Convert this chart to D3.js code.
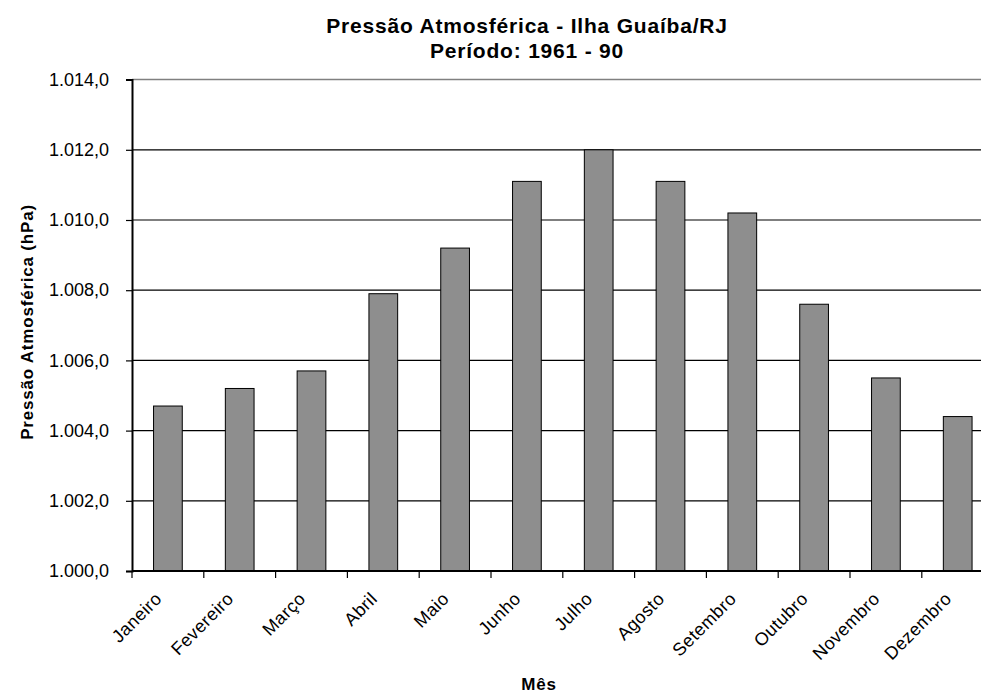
<!DOCTYPE html>
<html>
<head>
<meta charset="utf-8">
<script src="https://cdn.jsdelivr.net/npm/d3@7"></script>
<style>
  body { margin: 0; background: #fff; }
  svg { display: block; font-family: "Liberation Sans", Arial, sans-serif; }
</style>
</head>
<body>
<div class="chartHolder"></div>
<script>
// dados: pressão média mensal, Ilha Guaíba/RJ (1961-90)
var months = ['Janeiro', 'Fevereiro', 'Março', 'Abril', 'Maio', 'Junho',
  'Julho', 'Agosto', 'Setembro', 'Outubro', 'Novembro', 'Dezembro'];
var pressure = [1004.7, 1005.2, 1005.7, 1007.9, 1009.2, 1011.1,
  1012.0, 1011.1, 1010.2, 1007.6, 1005.5, 1004.4];
var yTicks = [1000, 1002, 1004, 1006, 1008, 1010, 1012, 1014];

var width = 981,
  height = 693;

var plotLeft = 132,
  plotRight = 993.6,
  plotTop = 79.6,
  plotBottom = 571;

var svg = d3
  .select('.chartHolder')
  .append('svg')
  .attr('width', width)
  .attr('height', height);

var ptBR = d3.formatLocale({ decimal: ',', thousands: '.', grouping: [3], currency: ['R$', ''] });
var fmt = ptBR.format(',.1f');

var x = d3
  .scaleBand()
  .domain(months)
  .range([plotLeft, plotRight])
  .paddingInner(0.6)
  .paddingOuter(0.3);

var y = d3
  .scaleLinear()
  .domain([1000, 1014])
  .range([plotBottom, plotTop]);

// linhas de grade
svg
  .append('g')
  .selectAll('line')
  .data(yTicks.slice(1))
  .enter()
  .append('line')
  .attr('x1', plotLeft)
  .attr('x2', width)
  .attr('y1', d => y(d))
  .attr('y2', d => y(d))
  .attr('stroke', d => (d === 1014 ? '#808080' : '#000'))
  .attr('stroke-width', d => (d === 1014 ? 1.5 : 1.2));

// barras
svg
  .append('g')
  .selectAll('rect')
  .data(pressure)
  .enter()
  .append('rect')
  .attr('x', (d, i) => x(months[i]))
  .attr('y', d => y(d))
  .attr('width', x.bandwidth())
  .attr('height', d => y(1000) - y(d))
  .attr('fill', '#8e8e8e')
  .attr('stroke', '#000')
  .attr('stroke-width', 1);

// eixo y
var yAxis = d3.axisLeft(y).tickValues(yTicks).tickFormat(fmt).tickSize(6).tickPadding(17);
var gy = svg
  .append('g')
  .attr('transform', 'translate(' + plotLeft + ',0)')
  .call(yAxis);
gy.select('.domain').attr('stroke-width', 2);
gy.selectAll('.tick line').attr('stroke-width', 1.2);
gy.selectAll('.tick text')
  .attr('font-size', 18)
  .attr('fill', '#000')
  .attr('font-family', '"Liberation Sans", Arial, sans-serif');

// eixo x (marcas entre categorias)
var step = x.step();
var gx = svg.append('g');
gx.append('line')
  .attr('x1', plotLeft)
  .attr('x2', width)
  .attr('y1', plotBottom)
  .attr('y2', plotBottom)
  .attr('stroke', '#000')
  .attr('stroke-width', 2);
gx.selectAll('.xtick')
  .data(months)
  .enter()
  .append('line')
  .attr('class', 'xtick')
  .attr('x1', d => x(d) + x.bandwidth() / 2 - step / 2)
  .attr('x2', d => x(d) + x.bandwidth() / 2 - step / 2)
  .attr('y1', plotBottom)
  .attr('y2', plotBottom + 7)
  .attr('stroke', '#000')
  .attr('stroke-width', 1.2);
gx.selectAll('.xlabel')
  .data(months)
  .enter()
  .append('text')
  .attr('class', 'xlabel')
  .attr('transform', d => 'translate(' + (x(d) + x.bandwidth() / 2 - 5) + ',' + (plotBottom + 29) + ') rotate(-45)')
  .attr('text-anchor', 'end')
  .attr('font-size', 18)
  .attr('letter-spacing', 0.4)
  .text(d => d);

// títulos
svg.append('text')
  .attr('x', 527)
  .attr('y', 33)
  .attr('text-anchor', 'middle')
  .attr('font-size', 21)
  .attr('letter-spacing', 0.8)
  .attr('font-weight', 'bold')
  .text('Pressão Atmosférica - Ilha Guaíba/RJ');
svg.append('text')
  .attr('x', 527)
  .attr('y', 58)
  .attr('text-anchor', 'middle')
  .attr('font-size', 21)
  .attr('letter-spacing', 0.8)
  .attr('font-weight', 'bold')
  .text('Período: 1961 - 90');

svg.append('text')
  .attr('transform', 'translate(33,322) rotate(-90)')
  .attr('text-anchor', 'middle')
  .attr('font-size', 17)
  .attr('letter-spacing', 0.8)
  .attr('font-weight', 'bold')
  .text('Pressão Atmosférica (hPa)');

svg.append('text')
  .attr('x', 539)
  .attr('y', 690)
  .attr('text-anchor', 'middle')
  .attr('font-size', 17)
  .attr('letter-spacing', 0.8)
  .attr('font-weight', 'bold')
  .text('Mês');
</script>
</body>
</html>
